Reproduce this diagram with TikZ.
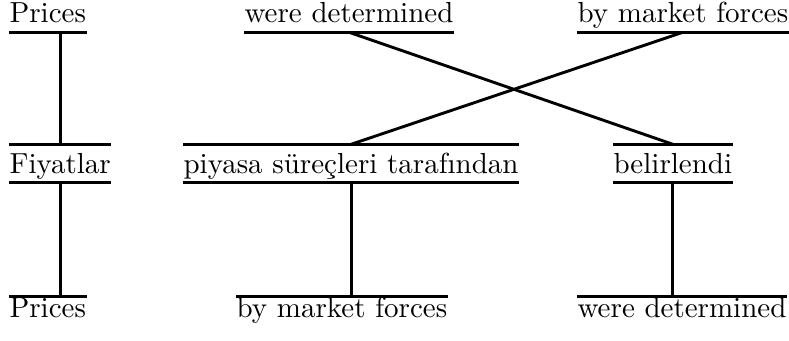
\documentclass[tikz,border=0pt]{standalone}
\usepackage{fontspec}
\tikzset{
	wrd/.style={inner sep=0pt, anchor=base west, text height=9.7pt, text depth=3.1pt},
	rul/.style={line width=1pt},
}
\begin{document}
\begin{tikzpicture}[x=0.3447pt,y=-0.3447pt]
\useasboundingbox (0,0) rectangle (789,340);
% english, top
\node[wrd] (pr1) at (9,22.7) {Prices};
\node[wrd] (wd1) at (244,22.7) {were determined};
\node[wrd] (mf1) at (577,22.7) {by market forces};
% turkish
\node[wrd] (fy) at (9,173) {Fiyatlar};
\node[wrd] (ps) at (183,173) {piyasa süreçleri tarafından};
\node[wrd] (bl) at (613,173) {belirlendi};
% english, reordered
\node[wrd,text height=6.9pt] (pr3) at (9,317) {Prices};
\node[wrd,text height=6.9pt] (mf3) at (236,317) {by market forces};
\node[wrd,text height=6.9pt] (wd3) at (577,317) {were determined};
% rules
\foreach \n in {pr1,wd1,mf1,fy,ps,bl}
	\draw[rul] (\n.south west) -- (\n.south east);
\foreach \n in {fy,ps,bl,pr3,mf3,wd3}
	\draw[rul] (\n.north west) -- (\n.north east);
% links
\draw[rul] (fy.north |- pr1.south) -- (fy.north);
\draw[rul] (wd1.south) -- (bl.north);
\draw[rul] (mf1.south) -- (ps.north);
\draw[rul] (fy.south) -- (fy.south |- pr3.north);
\draw[rul] (ps.south) -- (ps.south |- mf3.north);
\draw[rul] (bl.south) -- (bl.south |- wd3.north);
\end{tikzpicture}
\end{document}
